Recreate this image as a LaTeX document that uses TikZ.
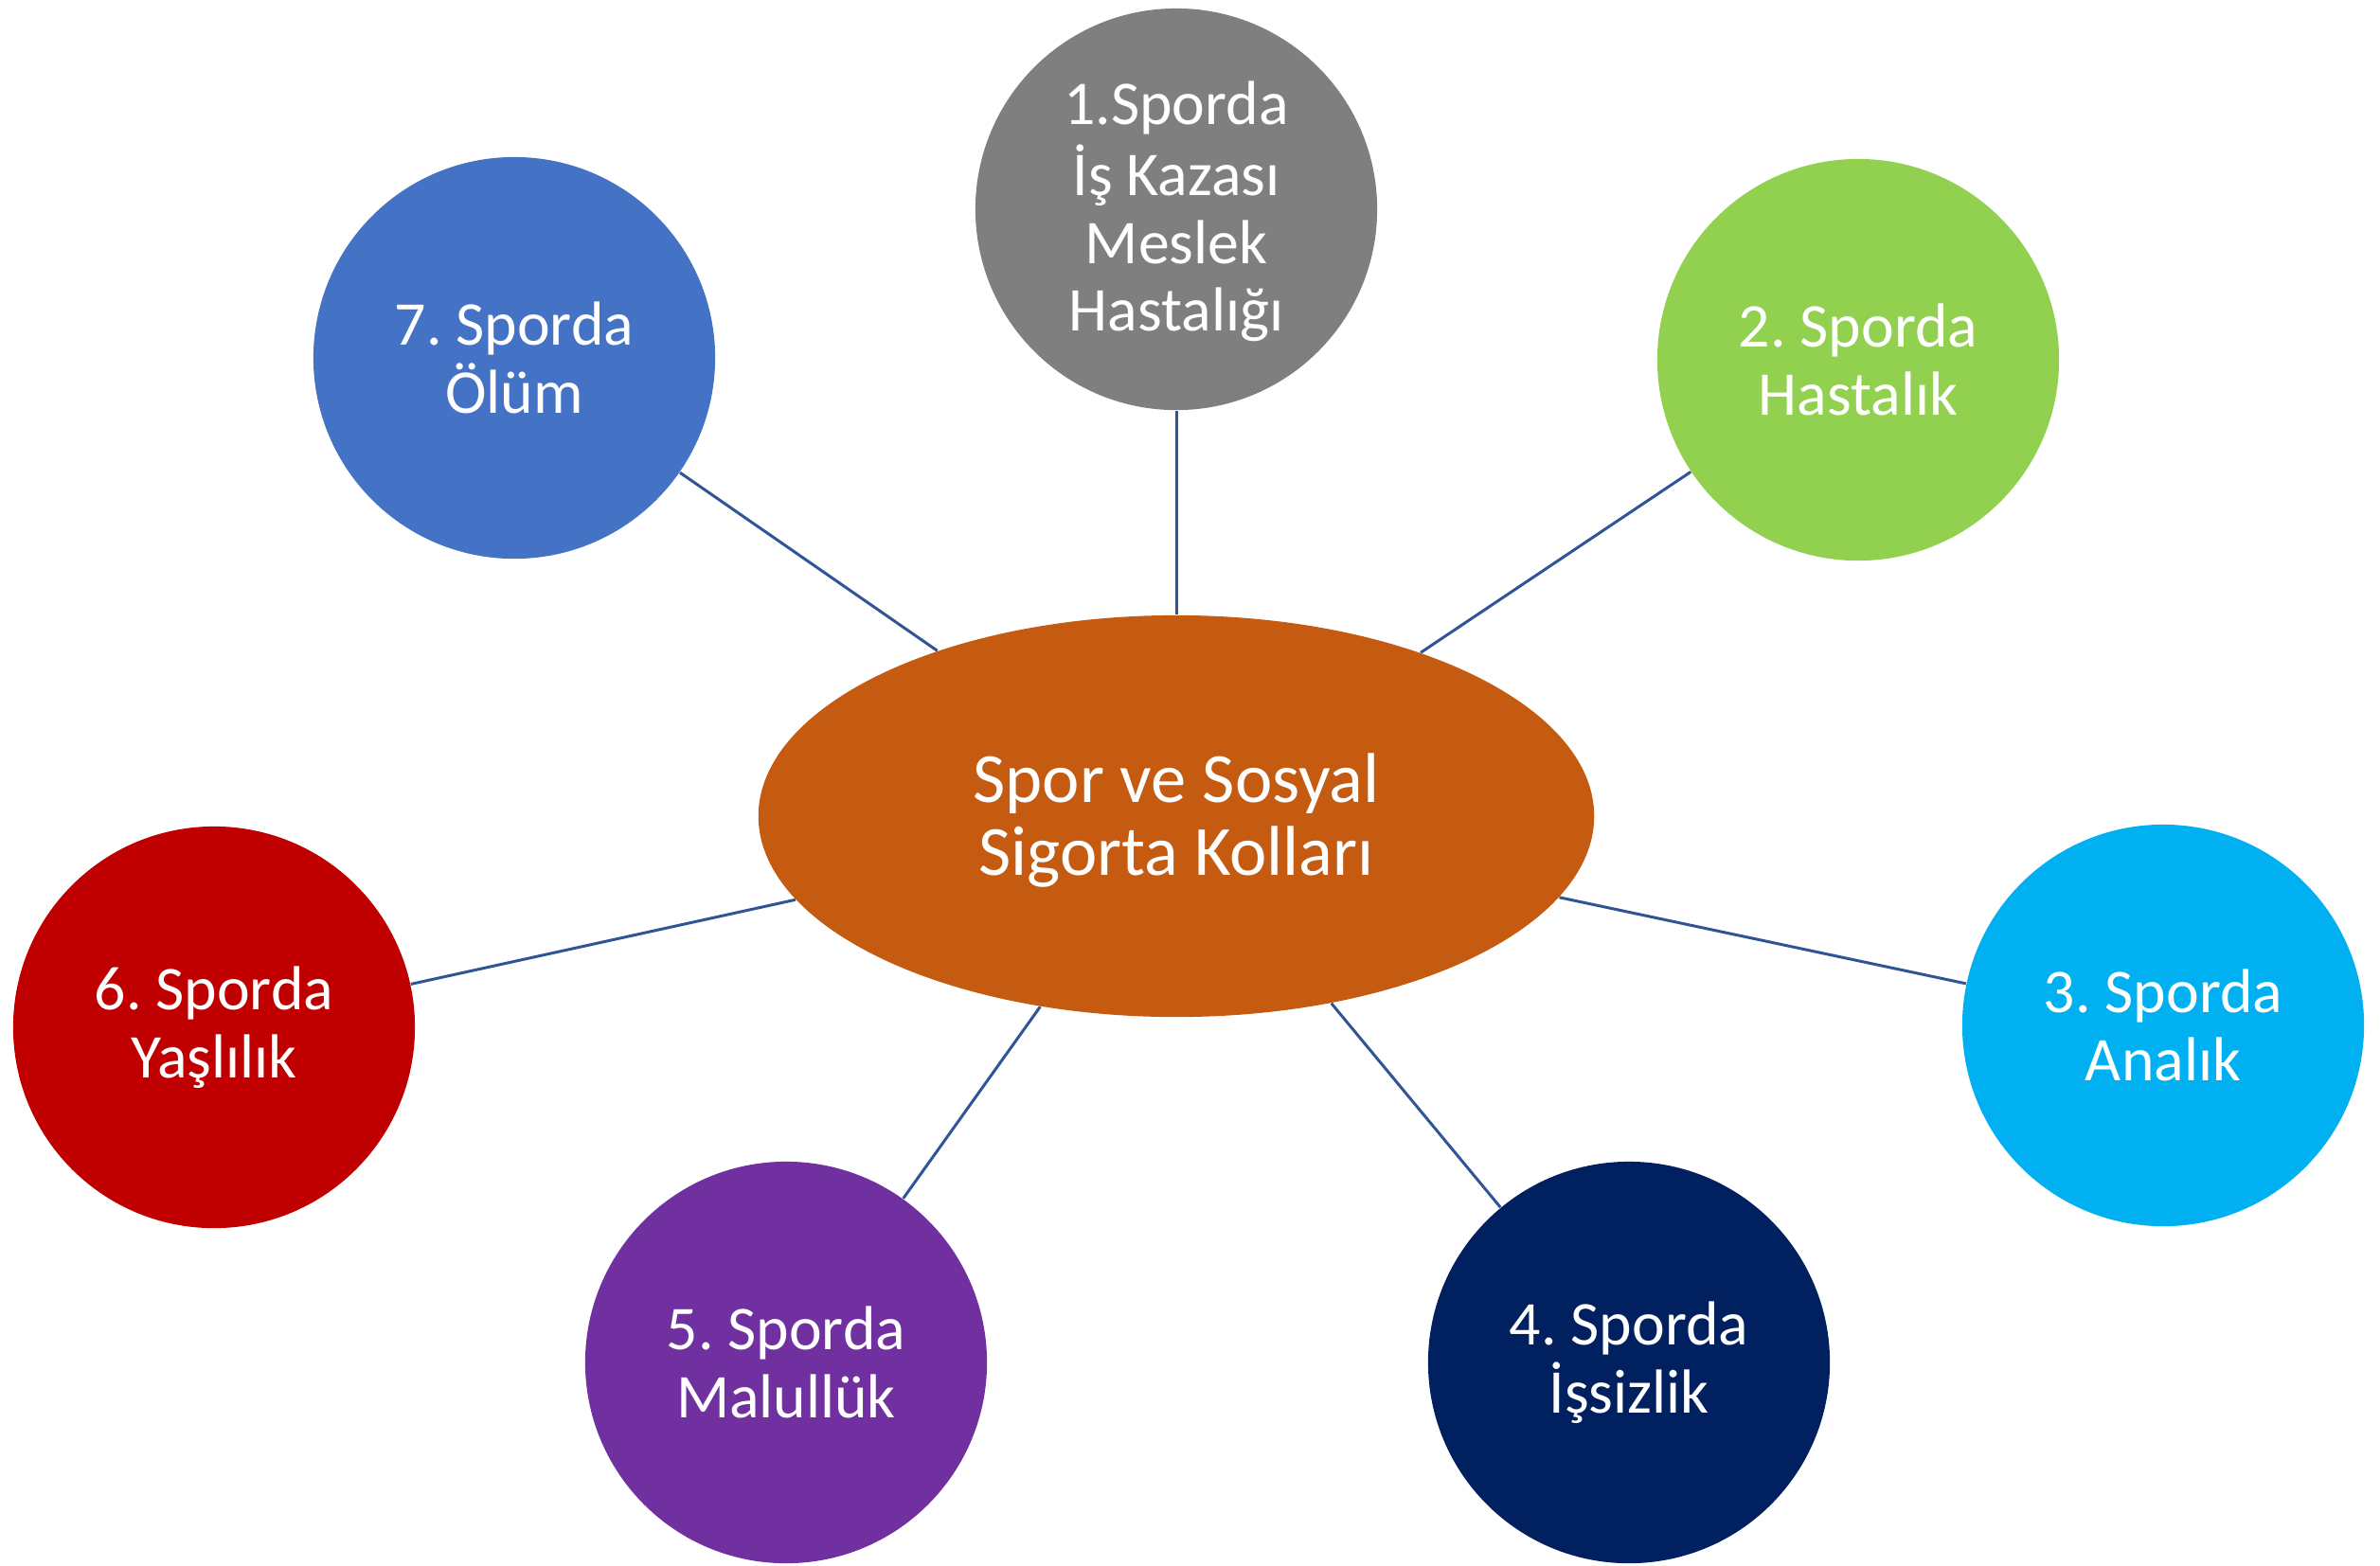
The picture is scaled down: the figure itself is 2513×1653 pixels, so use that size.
\documentclass[tikz,border=0pt]{standalone}
\usepackage{fontspec}
\setmainfont{Carlito}
\usetikzlibrary{shapes.geometric}
\definecolor{hubcol}{HTML}{C55A11}
\definecolor{linecol}{HTML}{2F5597}
\definecolor{c1col}{HTML}{7F7F7F}
\definecolor{c2col}{HTML}{92D050}
\definecolor{c3col}{HTML}{00B0F0}
\definecolor{c4col}{HTML}{002060}
\definecolor{c5col}{HTML}{7030A0}
\definecolor{c6col}{HTML}{C00000}
\definecolor{c7col}{HTML}{4472C4}
\frenchspacing
\newcommand{\lowered}[2]{\raisebox{-#1}[\height][\depth]{\begin{tabular}{@{}c@{}}#2\end{tabular}}}

\begin{document}
\begin{tikzpicture}[x=0.01cm, y=-0.01cm,
    branch/.style={circle, minimum size=4.24cm, inner sep=0pt, text=white,
      align=center, font=\fontsize{18.7}{20.4}\selectfont},
    spoke/.style={draw=linecol, line width=0.85pt}]
      \useasboundingbox (0,0) rectangle (2513,1653);

      % Draw the central ellipse
      \node[ellipse, fill=hubcol, minimum width=8.82cm, minimum height=4.24cm,
        inner sep=0pt, text=white, align=center,
        font=\fontsize{21.2}{21.9}\selectfont] (hub) at (1242,862)
        {\lowered{2.5pt}{Spor ve Sosyal\\Sigorta Kolları}};

      % Add the seven branches
      \node[branch, fill=c1col] (c1) at (1242,221) {\lowered{1.5pt}{1.Sporda\\İş Kazası\\Meslek\\Hastalığı}};
      \node[branch, fill=c2col] (c2) at (1962,380) {2. Sporda\\Hastalık};
      \node[branch, fill=c3col] (c3) at (2284,1083) {3. Sporda\\Analık};
      \node[branch, fill=c4col] (c4) at (1720,1439) {4. Sporda\\İşsizlik};
      \node[branch, fill=c5col] (c5) at (830,1439) {5. Sporda\\Malullük};
      \node[branch, fill=c6col] (c6) at (226,1085) {6. Sporda\\Yaşlılık};
      \node[branch, fill=c7col] (c7) at (543,378) {7. Sporda\\Ölüm};

      % Connect the branches to the ellipse
      \foreach \i in {1,...,7}
        \draw[spoke] (hub) -- (c\i);
\end{tikzpicture}
\end{document}
